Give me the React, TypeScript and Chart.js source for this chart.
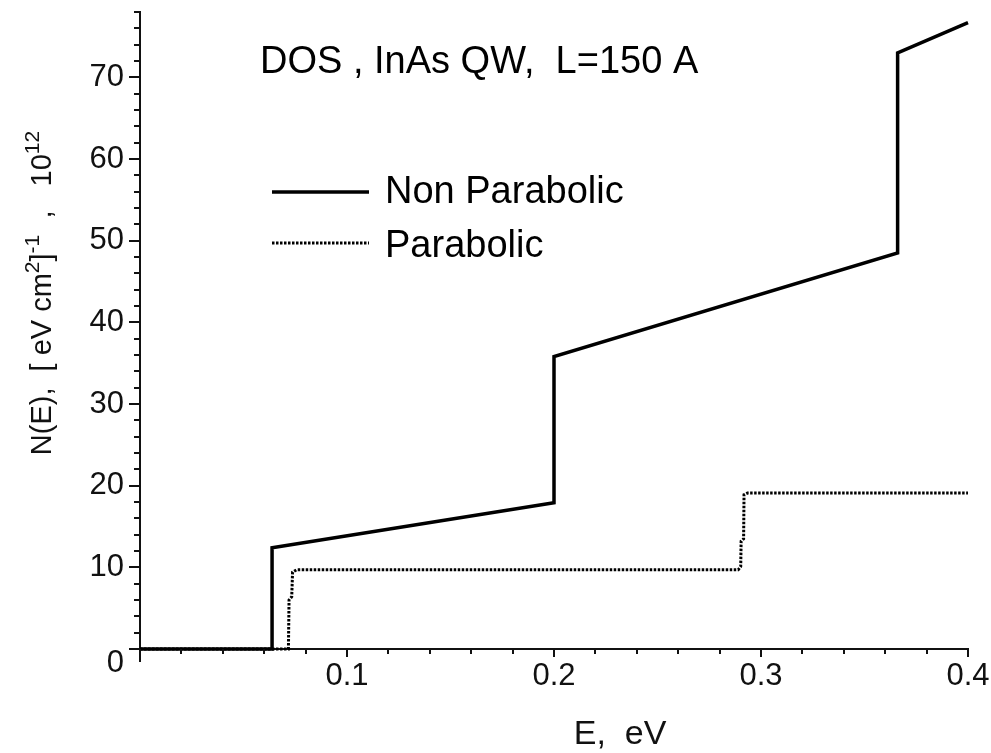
import React, { useEffect, useRef } from "react";
import { Chart, registerables } from "chart.js";

Chart.register(...registerables);

const FONT = "'Liberation Sans', Arial, sans-serif";

// Non-parabolic DOS (E in eV, N in 1e12 /(eV cm^2))
const NP_E = [0, 0.0638, 0.0638, 0.2, 0.2, 0.366, 0.366, 0.4];
const NP_N = [0, 0, 12.4, 17.9, 35.8, 48.5, 73.0, 76.7];

// Parabolic DOS
const P_E = [0, 0.0717, 0.072, 0.0733, 0.0737, 0.0757, 0.289, 0.2902, 0.2904, 0.2916, 0.2918, 0.2935, 0.4];
const P_N = [0, 0, 6.0, 6.4, 9.4, 9.7, 9.7, 10.1, 13.2, 13.5, 18.9, 19.1, 19.1];

const SERIES_LABELS = ["Non Parabolic", "Parabolic"];
const CHART_TITLE = "DOS , InAs QW,  L=150 A";
const X_TITLE = "E,  eV";
// y-axis title pieces: [text, isSuperscript]
const Y_TITLE_PARTS: [string, boolean][] = [
  ["N(E),  [ eV cm", false],
  ["2", true],
  ["]", false],
  ["-1", true],
  ["  ,   10", false],
  ["12", true],
];

const X_MIN = 0;
const X_MAX = 0.4;
const X_STEP = 0.02;
const Y_MIN = 0;
const Y_MAX = 78;
const Y_STEP = 2;

const NB = "\u00a0";

const isMajorX = (v: number) => Math.abs(v * 10 - Math.round(v * 10)) < 1e-6;
const isMajorY = (v: number) => Math.abs(v / 10 - Math.round(v / 10)) < 1e-6;

const axisTicksPlugin = {
  id: "axisTicks",
  afterDraw(chart: any) {
    const { ctx, chartArea } = chart;
    const xs = chart.scales.x;
    const ys = chart.scales.y;
    ctx.save();
    ctx.strokeStyle = "#111";
    ctx.lineWidth = 2;
    ctx.beginPath();
    ys.ticks.forEach((t: any) => {
      const py = Math.round(ys.getPixelForValue(t.value));
      const len = isMajorY(t.value) && t.value <= 70 ? 11 : 6;
      ctx.moveTo(chartArea.left - len, py);
      ctx.lineTo(chartArea.left, py);
    });
    xs.ticks.forEach((t: any) => {
      const px = Math.round(xs.getPixelForValue(t.value));
      const len = Math.abs(t.value) < 1e-9 ? 13 : isMajorX(t.value) ? 8 : 5;
      ctx.moveTo(px, chartArea.bottom);
      ctx.lineTo(px, chartArea.bottom + len);
    });
    ctx.stroke();
    ctx.restore();
  },
};

const yTitlePlugin = {
  id: "yTitle",
  afterDraw(chart: any, _args: any, opts: any) {
    const ctx = chart.ctx;
    const mainFont = `${opts.size}px ${FONT}`;
    const supFont = `${opts.supSize}px ${FONT}`;
    ctx.save();
    let total = 0;
    const widths = opts.parts.map(([t, sup]: [string, boolean]) => {
      ctx.font = sup ? supFont : mainFont;
      const w = ctx.measureText(t).width;
      total += w;
      return w;
    });
    ctx.translate(opts.baselineX, opts.centerY);
    ctx.rotate(-Math.PI / 2);
    ctx.fillStyle = "#111";
    ctx.textBaseline = "alphabetic";
    ctx.textAlign = "left";
    let x = -total / 2;
    opts.parts.forEach(([t, sup]: [string, boolean], i: number) => {
      ctx.font = sup ? supFont : mainFont;
      ctx.fillText(t, x, sup ? -opts.supRaise : 0);
      x += widths[i];
    });
    ctx.restore();
  },
};

const overlayPlugin = {
  id: "overlay",
  afterDraw(chart: any, _args: any, opts: any) {
    const ctx = chart.ctx;
    ctx.save();
    ctx.fillStyle = "#000";
    ctx.font = `${opts.fontSize}px ${FONT}`;
    ctx.textBaseline = "alphabetic";
    ctx.textAlign = "left";
    ctx.fillText(opts.title, opts.titleX, opts.titleY);
    chart.data.datasets.forEach((ds: any, i: number) => {
      const ly = opts.lineY[i];
      ctx.beginPath();
      ctx.strokeStyle = ds.borderColor;
      ctx.lineWidth = ds.borderWidth;
      ctx.setLineDash(ds.borderDash || []);
      ctx.moveTo(opts.sampleX0, ly);
      ctx.lineTo(opts.sampleX1, ly);
      ctx.stroke();
      ctx.setLineDash([]);
      ctx.fillText(ds.label, opts.textX, opts.textY[i]);
    });
    ctx.restore();
  },
};

export default function App() {
  const canvasRef = useRef<HTMLCanvasElement | null>(null);

  useEffect(() => {
    if (!canvasRef.current) return;
    const toPts = (xs: number[], ys: number[]) => xs.map((x, i) => ({ x, y: ys[i] }));
    const chart = new Chart(canvasRef.current, {
      type: "line",
      data: {
        datasets: [
          {
            label: SERIES_LABELS[0],
            data: toPts(NP_E, NP_N),
            borderColor: "#000",
            borderWidth: 3.5,
            pointRadius: 0,
            tension: 0,
            fill: false,
            clip: false,
            borderJoinStyle: "miter",
          },
          {
            label: SERIES_LABELS[1],
            data: toPts(P_E, P_N),
            borderColor: "#000",
            borderWidth: 3,
            borderDash: [2.5, 1.5],
            pointRadius: 0,
            tension: 0,
            fill: false,
            clip: false,
          },
        ] as any,
      },
      plugins: [axisTicksPlugin, overlayPlugin, yTitlePlugin],
      options: {
        animation: false,
        responsive: false,
        devicePixelRatio: 1,
        layout: { padding: { top: 12, right: 23, left: 0, bottom: 0 } },
        plugins: {
          legend: { display: false },
          title: { display: false },
          tooltip: { enabled: false },
          overlay: {
            fontSize: 38,
            title: CHART_TITLE,
            titleX: 260,
            titleY: 73,
            sampleX0: 272,
            sampleX1: 369,
            textX: 385,
            lineY: [192, 243],
            textY: [203, 257],
          },
          yTitle: {
            parts: Y_TITLE_PARTS,
            size: 29,
            supSize: 21,
            supRaise: 12,
            baselineX: 51,
            centerY: 293,
          },
        } as any,
        scales: {
          x: {
            type: "linear",
            min: X_MIN,
            max: X_MAX,
            afterFit: (s: any) => {
              s.height = 104;
              s.paddingLeft = 0;
              s.paddingRight = 0;
            },
            ticks: {
              stepSize: X_STEP,
              autoSkip: false,
              maxRotation: 0,
              padding: 9,
              color: "#111",
              font: { family: FONT, size: 31 },
              callback: (v: any) => {
                const n = Number(v);
                return n > 1e-9 && isMajorX(n) ? n.toFixed(1) : "";
              },
            },
            grid: { display: true, drawOnChartArea: false, drawTicks: false },
            border: { display: true, color: "#111", width: 2 },
            title: {
              display: true,
              text: NB.repeat(14) + X_TITLE,
              color: "#111",
              font: { family: FONT, size: 34, lineHeight: 1 },
              padding: { top: 0, bottom: 1 },
            },
          },
          y: {
            type: "linear",
            min: Y_MIN,
            max: Y_MAX,
            afterFit: (s: any) => {
              s.width = 140;
              s.paddingTop = 0;
              s.paddingBottom = 0;
            },
            ticks: {
              stepSize: Y_STEP,
              autoSkip: false,
              padding: 16,
              color: "#111",
              font: (c: any) =>
                c.tick && c.tick.value === 0
                  ? { family: FONT, size: 31, lineHeight: "28px" }
                  : { family: FONT, size: 31 },
              callback: (v: any) => {
                const n = Number(v);
                if (n === 0) return ["", "0"];
                return isMajorY(n) && n <= 70 ? String(Math.round(n)) : "";
              },
            },
            grid: { display: true, drawOnChartArea: false, drawTicks: false },
            border: { display: true, color: "#111", width: 2 },
            title: { display: false },
          },
        },
      } as any,
    });
    return () => chart.destroy();
  }, []);

  return (
    <div style={{ position: "fixed", left: 0, top: 0, width: 991, height: 753, background: "#fff" }}>
      <canvas ref={canvasRef} width={991} height={753} style={{ display: "block", width: 991, height: 753 }} />
    </div>
  );
}
